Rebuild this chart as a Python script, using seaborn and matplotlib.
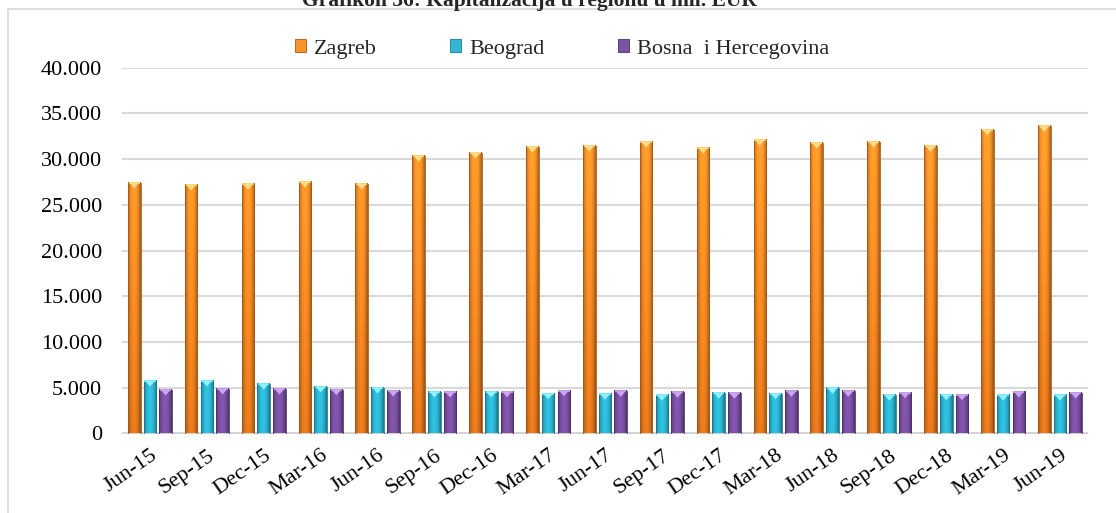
import numpy as np
import pandas as pd
import matplotlib
matplotlib.use("Agg")
import matplotlib.pyplot as plt
import seaborn as sns
from matplotlib.patches import Polygon, Patch
from matplotlib.lines import Line2D
from matplotlib.ticker import FuncFormatter, MultipleLocator
from matplotlib.colors import to_rgb

# ---- data (mil. EUR) ----
periods = ["Jun-15", "Sep-15", "Dec-15", "Mar-16", "Jun-16", "Sep-16", "Dec-16",
           "Mar-17", "Jun-17", "Sep-17", "Dec-17", "Mar-18", "Jun-18", "Sep-18",
           "Dec-18", "Mar-19", "Jun-19"]
zagreb = [27420, 27170, 27250, 27500, 27280, 30340, 30670, 31330, 31440, 31870,
          31220, 32090, 31770, 31870, 31400, 33220, 33590]
beograd = [5740, 5740, 5410, 5080, 4980, 4540, 4540, 4350, 4290, 4180,
           4400, 4350, 4940, 4180, 4240, 4180, 4180]
bih = [4760, 4870, 4870, 4790, 4650, 4540, 4570, 4680, 4610, 4510,
       4400, 4610, 4610, 4460, 4240, 4540, 4430]
markets = ["Zagreb", "Beograd", "Bosna  i Hercegovina"]
title = "Grafikon 36: Kapitalizacija u regionu u mil. EUR"

df = pd.DataFrame({
    "period": periods * 3,
    "market": np.repeat(markets, len(periods)),
    "value": zagreb + beograd + bih,
})

# colour styling per market: (bottom, top, cap, edge)
style = {
    "Zagreb": ("#D6701A", "#F8942A", "#FFDE85", "#A85812"),
    "Beograd": ("#2AAECB", "#31B6D3", "#8EF2FF", "#1A7890"),
    "Bosna  i Hercegovina": ("#764C9C", "#7C52A3", "#CDA6F2", "#4E2F6E"),
}
palette = {m: style[m][1] for m in markets}

sns.set_theme(style="white")
plt.rcParams["font.family"] = ["Liberation Serif", "DejaVu Serif"]

W, H = 1116, 513
fig = plt.figure(figsize=(W / 100, H / 100), dpi=100)
ax_left, ax_right = 121.6, 1088.4
ax_top, ax_bottom = 67.7, 433.5
ax = fig.add_axes([ax_left / W, (H - ax_bottom) / H,
                   (ax_right - ax_left) / W, (ax_bottom - ax_top) / H])

sns.barplot(data=df, x="period", y="value", hue="market", order=periods,
            hue_order=markets, palette=palette, saturation=1, width=0.83,
            gap=0.2, errorbar=None, legend=False, ax=ax, zorder=3)

ax.set_xlim(-0.5, len(periods) - 0.5)
ax.set_ylim(0, 40000)

# pixels -> data units on the value axis
px_to_val = 40000 / (ax_bottom - ax_top)


def lerp(c0, c1, f):
    return c0 + (c1 - c0) * f


# cylinder-like shading and a light cap on every bar
n_per = len(periods)
for i, patch in enumerate(ax.patches[: 3 * n_per]):
    market = markets[i // n_per]
    bottom_c, top_c, cap_c, edge_c = style[market]
    x0, w = patch.get_x(), patch.get_width()
    h = patch.get_height()
    nx, ny = 40, 80
    t = np.linspace(0, 1, nx)
    prof = 0.70 + 0.42 * np.sin(np.pi * np.clip(t * 1.05, 0, 1)) ** 0.7
    s = np.linspace(0, 1, ny)
    frac = np.clip(s * h / 34000, 0, 1)
    c0, c1 = np.array(to_rgb(bottom_c)), np.array(to_rgb(top_c))
    col = lerp(c0[None, :], c1[None, :], frac[:, None])  # (ny, 3)
    img = np.clip(col[:, None, :] * prof[None, :, None], 0, 1)
    ax.imshow(img, extent=(x0, x0 + w, 0, h), origin="lower", aspect="auto",
              interpolation="bilinear", zorder=3.5)
    patch.set_edgecolor(edge_c)
    patch.set_linewidth(0.6)
    patch.set_zorder(3.6)
    patch.set_facecolor("none")
    xc = x0 + w / 2
    dh = 5.5 * px_to_val
    tri = Polygon([[x0 + 0.12 * w, h], [x0 + 0.88 * w, h], [xc, h - dh]],
                  closed=True, facecolor=cap_c, edgecolor="none", zorder=3.8)
    ax.add_patch(tri)
    ax.plot([x0 + 0.05 * w, x0 + 0.95 * w], [h, h], color=cap_c, lw=1.2,
            solid_capstyle="butt", zorder=3.9)

ax.set_xlim(-0.5, len(periods) - 0.5)
ax.set_ylim(0, 40000)

# grid, baseline, spines
ax.yaxis.set_major_locator(MultipleLocator(5000))
ax.yaxis.grid(True, color="#D9D9D9", lw=1.5)
ax.xaxis.grid(False)
ax.set_axisbelow(True)
for sp in ax.spines.values():
    sp.set_visible(False)
ax.axhline(0, color="#D2D2D2", lw=3.5, zorder=2)

ax.yaxis.set_major_formatter(FuncFormatter(lambda v, _: f"{int(v):,}".replace(",", ".")))
ax.tick_params(axis="y", length=0, labelsize=16, pad=14, colors="black")
ax.set_xticks(range(len(periods)))
ax.set_xticklabels(periods, rotation=35, ha="right", rotation_mode="anchor")
ax.tick_params(axis="x", length=0, labelsize=16, pad=9, colors="black")
ax.set_xlabel("")
ax.set_ylabel("")

# legend across the top
handles = [Patch(facecolor=style[m][1], edgecolor=style[m][3], lw=0.6) for m in markets]
fig.legend(handles, markets, loc="center", bbox_to_anchor=(562 / W, 1 - 49 / H),
           ncol=3, frameon=False, fontsize=16, handlelength=0.5, handleheight=0.5,
           handletextpad=0.35, columnspacing=3.3, borderpad=0, borderaxespad=0)

# title and outer frame lines
fig.text(529 / W, 1 - 6 / H, title, ha="center", va="baseline", fontsize=15.5,
         fontweight="bold")
fig.add_artist(Line2D([8 / W, 1], [1 - 9 / H, 1 - 9 / H], transform=fig.transFigure,
                      color="#D9D9D9", lw=1.2))
fig.add_artist(Line2D([8 / W, 8 / W], [0, 1 - 9 / H], transform=fig.transFigure,
                      color="#D9D9D9", lw=1.2))

fig.savefig("out.png", dpi=100)
